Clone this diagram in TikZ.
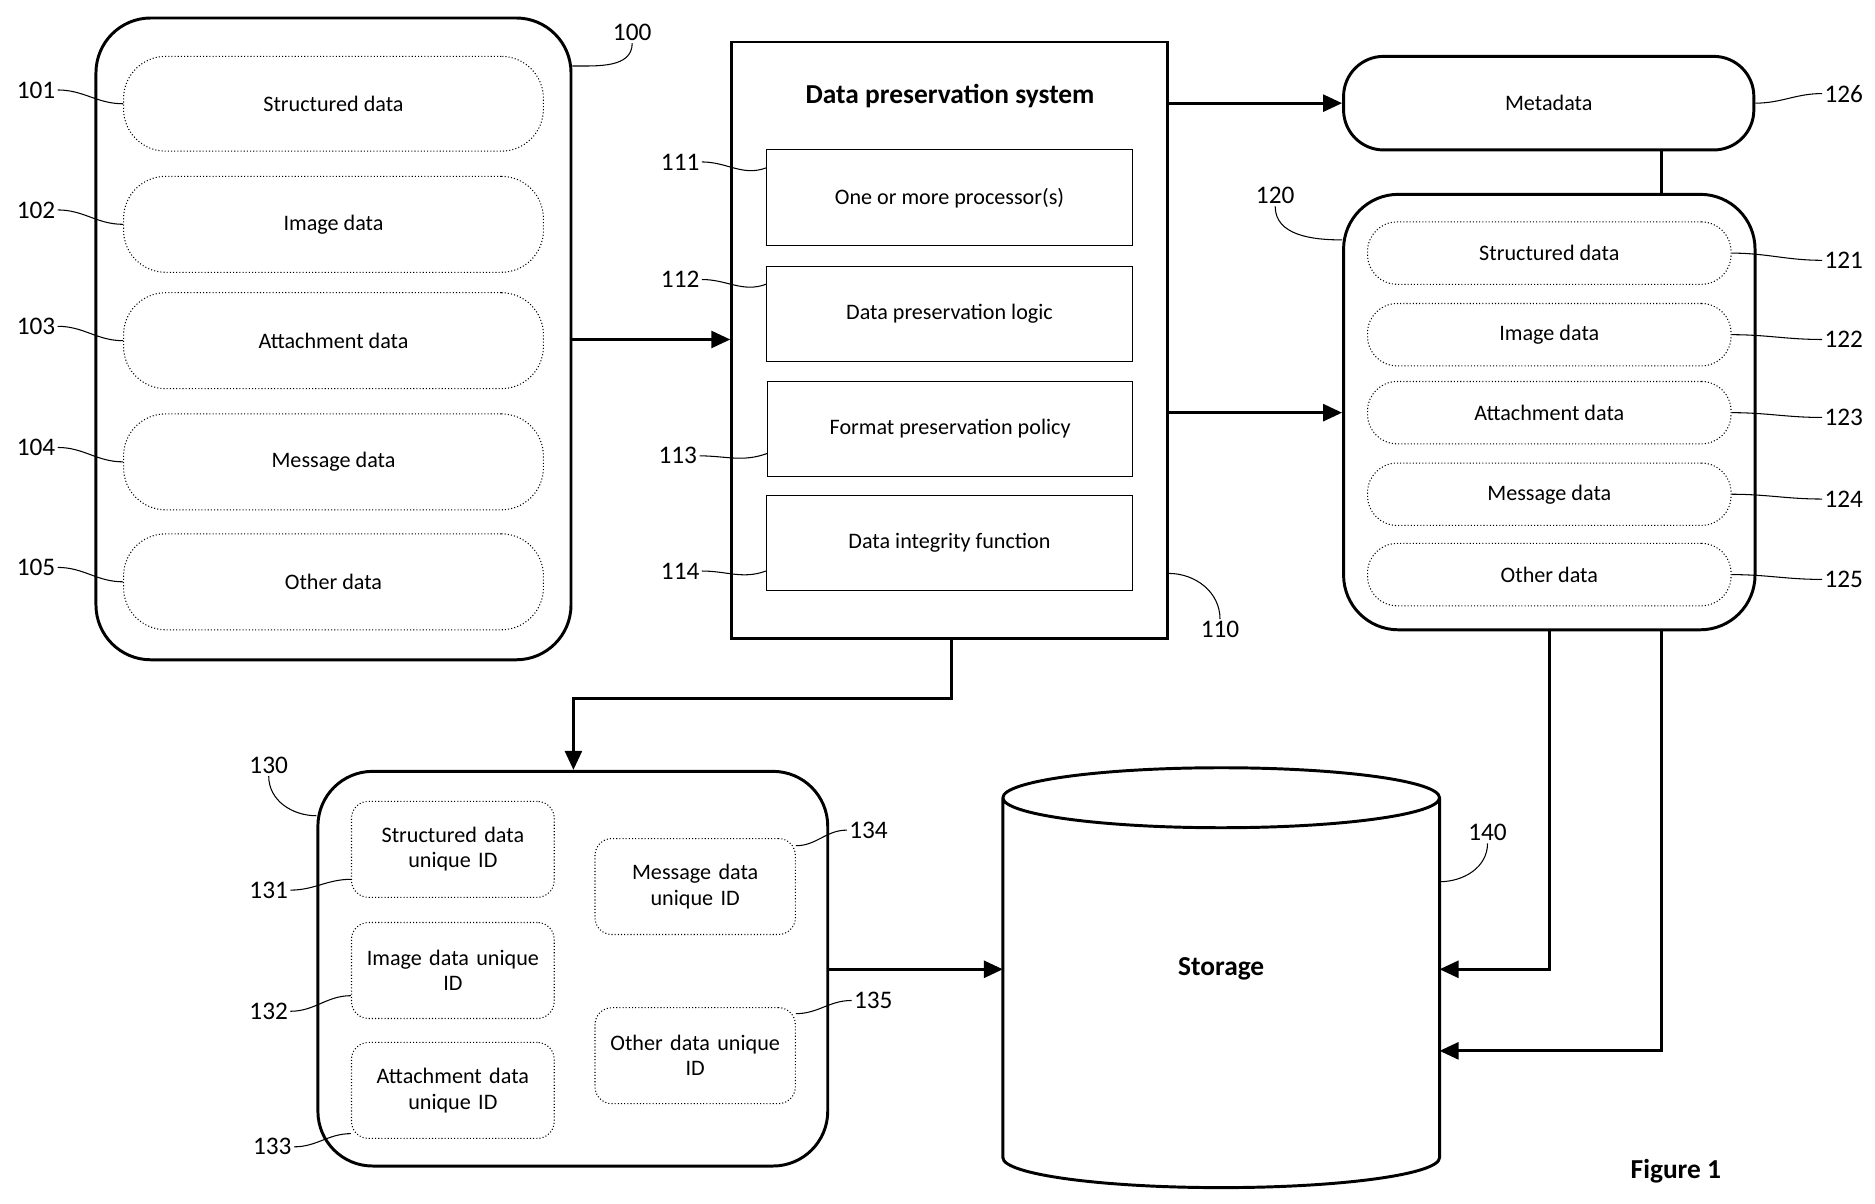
\documentclass[tikz,border=0pt]{standalone}
\usepackage{fontspec}
\setmainfont{Carlito}
\usetikzlibrary{arrows.meta}
\newcommand{\bx}[7]{\node[#6, minimum width={(#4-#2)*0.02cm}, minimum height={(#5-#3)*0.02cm}] (#1) at ({(#2+#4)/2},{(#3+#5)/2}) {#7};}
\begin{document}
\begin{tikzpicture}[x=0.02cm,y=-0.02cm,
  outer/.style={draw, line width=1.4pt, rounded corners=26pt, inner sep=0},
  sq/.style={draw, line width=1.4pt, inner sep=0},
  dsh/.style={draw, densely dotted, line width=0.5pt, rounded corners=20pt, align=center, inner sep=0, font=\fontsize{10.5}{12}\selectfont},
  dsh2/.style={dsh, rounded corners=14pt},
  inr/.style={draw, line width=0.5pt, align=center, inner sep=0, font=\fontsize{10.5}{12}\selectfont},
  dsq/.style={draw, densely dotted, line width=0.5pt, rounded corners=8pt, align=center, inner sep=2pt, text width=3cm, font=\fontsize{10.5}{12}\selectfont},
  lab/.style={font=\fontsize{12}{14}\selectfont, inner sep=1pt},
  ld/.style={line width=0.5pt},
  arr/.style={line width=1.4pt, -{Triangle[length=9pt,width=8pt]}},
  ln/.style={line width=1.4pt}]
\useasboundingbox (0,0) rectangle (1563,1003);
% box 100
\bx{b100}{80}{15}{476}{550}{outer}{}
\bx{s101}{103}{47}{453}{126}{dsh}{Structured data}
\bx{s102}{103}{147}{453}{227}{dsh}{Image data}
\bx{s103}{103}{244}{453}{324}{dsh}{Attachment data}
\bx{s104}{103}{345}{453}{425}{dsh}{Message data}
\bx{s105}{103}{445}{453}{525}{dsh}{Other data}
\node[lab] (l100) at (527,27) {100};
\node[lab] (l101) at (30,75) {101};
\node[lab] (l102) at (30,175) {102};
\node[lab] (l103) at (30,272) {103};
\node[lab] (l104) at (30,373) {104};
\node[lab] (l105) at (30,473) {105};
\draw[ld] (b100.east|-0,55) to[out=0,in=270] (l100.south);
\foreach \i in {1,...,5}{\draw[ld] (l10\i.east) to[out=0,in=180] (s10\i.west);}
% box 110
\bx{b110}{610}{35}{973}{532}{sq}{}
\node[font=\bfseries\fontsize{13}{15}\selectfont] (t110) at (792,80) {Data preservation system};
\bx{s111}{639}{125}{944}{205}{inr}{One or more processor(s)}
\bx{s112}{639}{222}{944}{301}{inr}{Data preservation logic}
\bx{s113}{640}{318}{944}{397}{inr}{Format preservation policy}
\bx{s114}{639}{413}{944}{492}{inr}{Data integrity function}
\node[lab] (l111) at (567,135) {111};
\node[lab] (l112) at (567,233) {112};
\node[lab] (l113) at (565,380) {113};
\node[lab] (l114) at (567,476) {114};
\node[lab] (l110) at (1017,525) {110};
\draw[ld] (l111.east) to[out=0,in=200] (s111.west|-0,140);
\draw[ld] (l112.east) to[out=0,in=200] (s112.west|-0,237);
\draw[ld] (l113.east) to[out=0,in=200] (s113.west|-0,378);
\draw[ld] (l114.east) to[out=0,in=200] (s114.west|-0,476);
\draw[ld] (b110.east|-0,478) to[out=0,in=90] (l110.north);
\draw[arr] (b100.east|-0,283) -- (b110.west|-0,283);
% metadata
\node[draw, line width=1.4pt, rounded corners=19pt, minimum width={342*0.02cm}, minimum height={78*0.02cm}, font=\fontsize{10.5}{12}\selectfont] (b126) at (1291,86) {Metadata};
\node[lab] (l126) at (1537,78) {126};
\draw[ld] (b126.east) to[out=0,in=180] (l126.west);
\draw[arr] (b110.east|-0,86) -- (b126.west);
% box 120
\bx{b120}{1120}{162}{1463}{525}{outer}{}
\draw[ln] (b126.south-|1385,0) -- (b120.north-|1385,0);
\bx{s121}{1140}{185}{1443}{237}{dsh2}{Structured data}
\bx{s122}{1140}{253}{1443}{305}{dsh2}{Image data}
\bx{s123}{1140}{318}{1443}{370}{dsh2}{Attachment data}
\bx{s124}{1140}{386}{1443}{438}{dsh2}{Message data}
\bx{s125}{1140}{453}{1443}{505}{dsh2}{Other data}
\node[lab] (l121) at (1537,217) {121};
\node[lab] (l122) at (1537,283) {122};
\node[lab] (l123) at (1537,348) {123};
\node[lab] (l124) at (1537,416) {124};
\node[lab] (l125) at (1537,483) {125};
\foreach \i in {1,...,5}{\draw[ld] (s12\i.east) to[out=0,in=180] (l12\i.west);}
\node[lab] (l120) at (1063,163) {120};
\draw[ld] (l120.south) to[out=270,in=180] (b120.west|-0,200);
\draw[arr] (b110.east|-0,344) -- (b120.west|-0,344);
% box 130
\bx{b130}{265}{643}{690}{972}{outer}{}
\bx{s131}{293}{668}{462}{748}{dsq}{Structured data\\unique ID}
\bx{s132}{293}{769}{462}{849}{dsq}{Image data unique\\ID}
\bx{s133}{293}{869}{462}{949}{dsq}{Attachment data\\unique ID}
\bx{s134}{496}{699}{663}{779}{dsq}{Message data\\unique ID}
\bx{s135}{496}{840}{663}{920}{dsq}{Other data unique\\ID}
\node[lab] (l130) at (224,638) {130};
\node[lab] (l131) at (224,742) {131};
\node[lab] (l132) at (224,843) {132};
\node[lab] (l133) at (227,956) {133};
\node[lab] (l134) at (724,692) {134};
\node[lab] (l135) at (728,834) {135};
\draw[ld] (l130.south) to[out=270,in=180] (b130.west|-0,680);
\draw[ld] (l131.east) to[out=0,in=180] (s131.west|-0,733);
\draw[ld] (l132.east) to[out=0,in=180] (s132.west|-0,830);
\draw[ld] (l133.east) to[out=0,in=180] (s133.west|-0,945);
\draw[ld] (s134.east|-0,705) to[out=0,in=180] (l134.west);
\draw[ld] (s135.east|-0,845) to[out=0,in=180] (l135.west);
\draw[arr] (b110.south-|793,0) |- (478,582) -- (b130.north-|478,0);
% storage cylinder
\node[font=\bfseries\fontsize{13}{15}\selectfont, minimum width={364*0.02cm}, minimum height={350*0.02cm}] (b140) at (1018,808) {Storage};
\draw[line width=1.4pt] (836,665) arc[x radius=182, y radius=25, start angle=180, end angle=-180]
  (836,665) -- (836,965) arc[x radius=182, y radius=25, start angle=180, end angle=0] -- (1200,665);
\node[lab] (l140) at (1240,694) {140};
\draw[ld] (1200,735) to[out=0,in=270] (l140.south);
\draw[arr] (b130.east|-0,808) -- (836,808);
\draw[arr] (b120.south-|1292,0) |- (1200,808);
\draw[arr] (b120.south-|1385,0) |- (1200,876);
\node[font=\bfseries\fontsize{13}{15}\selectfont] (fig) at (1397,976) {Figure 1};
\end{tikzpicture}
\end{document}
